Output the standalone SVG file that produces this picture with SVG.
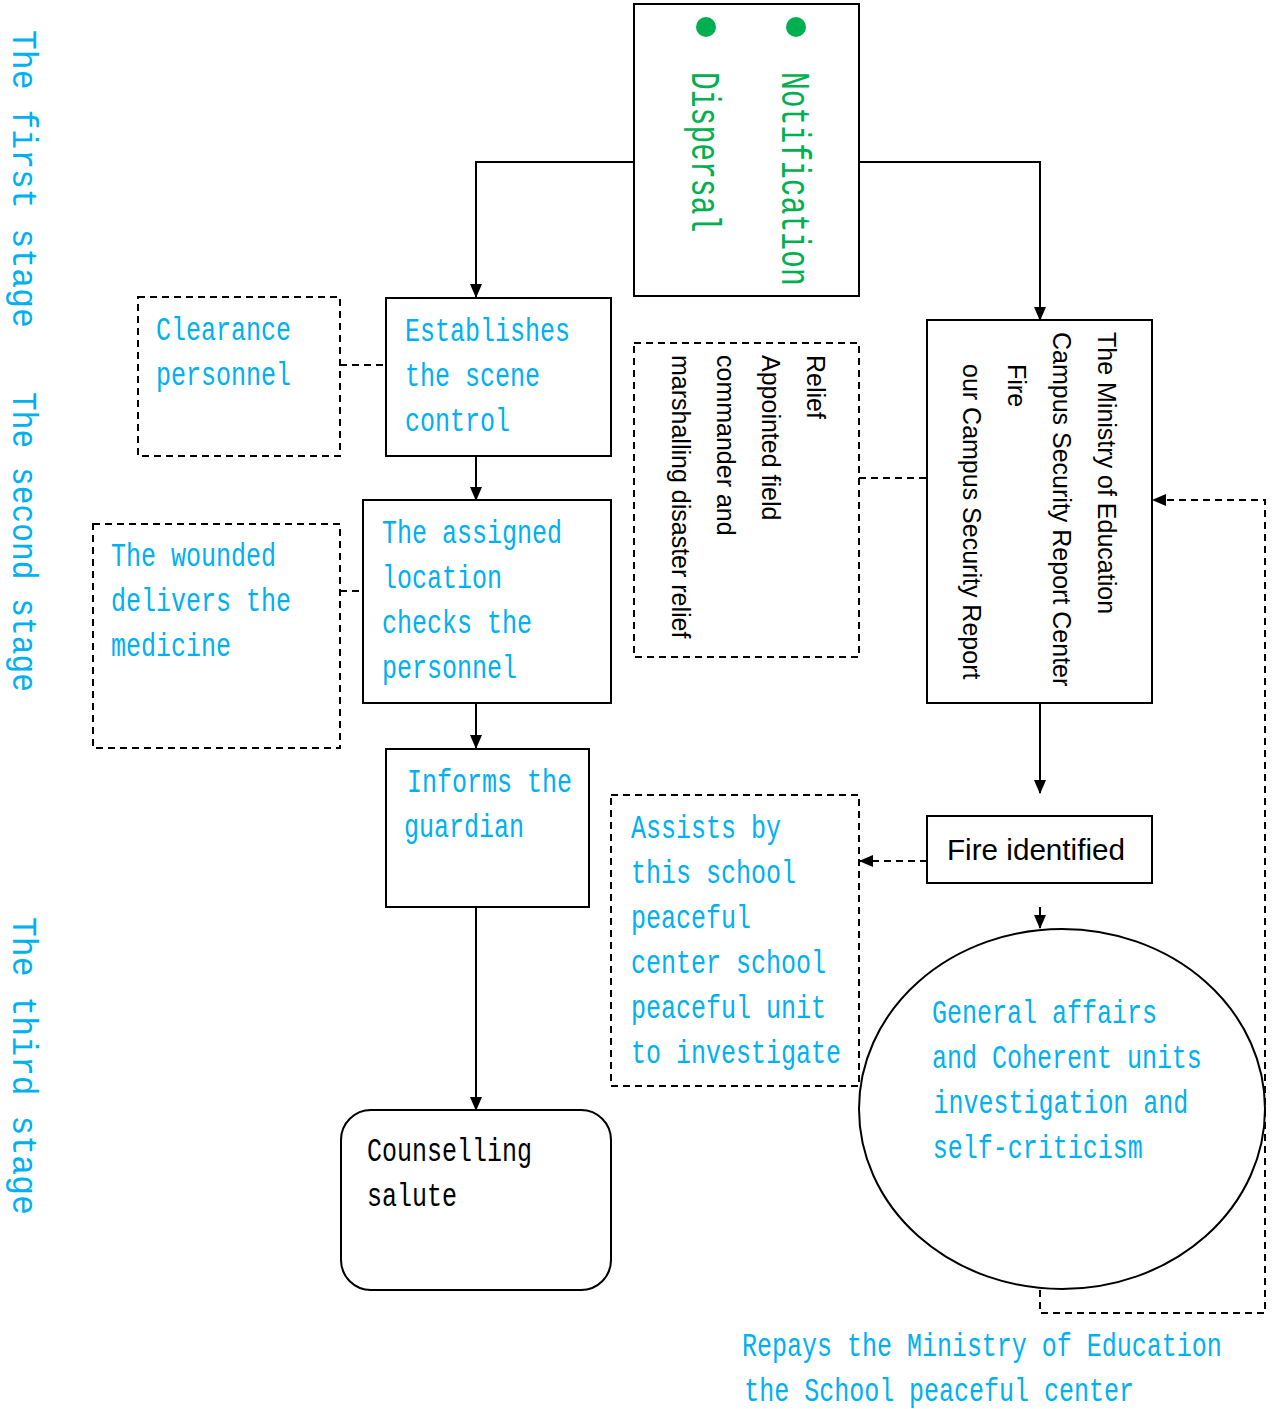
<svg xmlns="http://www.w3.org/2000/svg" width="1273" height="1409" viewBox="0 0 1273 1409">
<style>
.box{fill:#fff;stroke:#000;stroke-width:2}
.dbox{fill:none;stroke:#000;stroke-width:2;stroke-dasharray:7,5}
.ln{fill:none;stroke:#000;stroke-width:2}
.dl{fill:none;stroke:#000;stroke-width:2;stroke-dasharray:7,5}
.m{font-family:"Liberation Mono","DejaVu Sans Mono",monospace;font-size:34px;fill:#00B0F0}
.mk{font-family:"Liberation Mono","DejaVu Sans Mono",monospace;font-size:34px;fill:#000}
.st{font-family:"Liberation Mono","DejaVu Sans Mono",monospace;font-size:35px;fill:#00B0F0}
.g{font-family:"Liberation Mono","DejaVu Sans Mono",monospace;font-size:41px;fill:#00B050}
.s{font-family:"Liberation Sans",Arial,sans-serif;font-size:25px;fill:#000}
</style>
<defs>
<marker id="arr" markerUnits="userSpaceOnUse" markerWidth="14" markerHeight="12" refX="13" refY="6" orient="auto">
<path d="M0,0 L14,6 L0,12 z" fill="#000"/>
</marker>
</defs>

<g id="stages">
<text class="st" transform="translate(13,30) rotate(90) scale(0.946,1)">The first stage</text>
<text class="st" transform="translate(13,392) rotate(90) scale(0.893,1)">The second stage</text>
<text class="st" transform="translate(13,917) rotate(90) scale(0.946,1)">The third stage</text>
</g>

<g id="connectors">
<path class="ln" d="M634,162 H476 V297" marker-end="url(#arr)"/>
<path class="ln" d="M859,162 H1040 V320" marker-end="url(#arr)"/>
<path class="ln" d="M476,456 V500" marker-end="url(#arr)"/>
<path class="ln" d="M476,703 V748" marker-end="url(#arr)"/>
<path class="ln" d="M476,907 V1110" marker-end="url(#arr)"/>
<path class="ln" d="M1040,703 V793" marker-end="url(#arr)"/>
<path class="ln" d="M1040,907 V928" marker-end="url(#arr)"/>
<path class="dl" d="M927,861 H860" marker-end="url(#arr)"/>
<path class="dl" d="M340,365 H386"/>
<path class="dl" d="M340,591 H386"/>
<path class="dl" d="M859,478 H927"/>
<path class="dl" d="M1040,1290 V1313 H1265 V500 H1153" marker-end="url(#arr)"/>
</g>

<g id="n-top">
<rect class="box" x="634" y="4" width="225" height="292"/>
<circle cx="706" cy="27" r="10" fill="#00B050"/>
<circle cx="796" cy="27" r="10" fill="#00B050"/>
<text class="g" transform="translate(782,72) rotate(90) scale(0.724,1)">Notification</text>
<text class="g" transform="translate(692,72) rotate(90) scale(0.724,1)">Dispersal</text>
</g>

<g id="n-clearance">
<rect class="dbox" x="138" y="297" width="202" height="159"/>
<text class="m" transform="translate(156,340) scale(0.735,1)"><tspan x="0" y="0">Clearance</tspan><tspan x="0" y="45">personnel</tspan></text>
</g>

<g id="n-establish">
<rect class="box" x="386" y="298" width="225" height="158"/>
<text class="m" transform="translate(405,341) scale(0.735,1)"><tspan x="0" y="0">Establishes</tspan><tspan x="0" y="45">the scene</tspan><tspan x="0" y="90">control</tspan></text>
</g>

<g id="n-assigned">
<rect class="box" x="363" y="500" width="248" height="203"/>
<text class="m" transform="translate(382,543) scale(0.735,1)"><tspan x="0" y="0">The assigned</tspan><tspan x="0" y="45">location</tspan><tspan x="0" y="90">checks the</tspan><tspan x="0" y="135">personnel</tspan></text>
</g>

<g id="n-wounded">
<rect class="dbox" x="93" y="524" width="247" height="224"/>
<text class="m" transform="translate(111,566) scale(0.735,1)"><tspan x="0" y="0">The wounded</tspan><tspan x="0" y="45">delivers the</tspan><tspan x="0" y="90">medicine</tspan></text>
</g>

<g id="n-informs">
<rect class="box" x="386" y="749" width="203" height="158"/>
<text class="m" transform="translate(407,792) scale(0.735,1)">Informs the</text>
<text class="m" transform="translate(404,837) scale(0.735,1)">guardian</text>
</g>

<g id="n-counselling">
<rect class="box" x="341" y="1110" width="270" height="180" rx="30" ry="30"/>
<text class="mk" transform="translate(367,1161) scale(0.735,1)"><tspan x="0" y="0">Counselling</tspan><tspan x="0" y="45">salute</tspan></text>
</g>

<g id="n-relief">
<rect class="dbox" x="634" y="343" width="225" height="314"/>
<text class="s" transform="translate(807,355) rotate(90)">Relief</text>
<text class="s" transform="translate(762,355) rotate(90)">Appointed field</text>
<text class="s" transform="translate(717,355) rotate(90)">commander and</text>
<text class="s" transform="translate(672,355) rotate(90)">marshalling disaster relief</text>
</g>

<g id="n-ministry">
<rect class="box" x="927" y="320" width="225" height="383"/>
<text class="s" transform="translate(1098,332) rotate(90)">The Ministry of Education</text>
<text class="s" transform="translate(1053,332) rotate(90)">Campus Security Report Center</text>
<text class="s" transform="translate(1008,364) rotate(90)">Fire</text>
<text class="s" transform="translate(963,364) rotate(90)">our Campus Security Report</text>
</g>

<g id="n-fire">
<rect class="box" x="927" y="816" width="225" height="67"/>
<text x="947" y="860" font-family="Liberation Sans, Arial, sans-serif" font-size="29" fill="#000" textLength="178" lengthAdjust="spacingAndGlyphs">Fire identified</text>
</g>

<g id="n-assists">
<rect class="dbox" x="611" y="795" width="248" height="291"/>
<text class="m" transform="translate(631,838) scale(0.735,1)"><tspan x="0" y="0">Assists by</tspan><tspan x="0" y="45">this school</tspan><tspan x="0" y="90">peaceful</tspan><tspan x="0" y="135">center school</tspan><tspan x="0" y="180">peaceful unit</tspan><tspan x="0" y="225">to investigate</tspan></text>
</g>

<g id="n-general">
<ellipse class="box" cx="1062" cy="1109" rx="203" ry="180"/>
<text class="m" transform="translate(932,1023) scale(0.735,1)"><tspan x="0" y="0">General affairs</tspan><tspan x="0" y="45">and Coherent units</tspan><tspan x="2" y="90">investigation and</tspan><tspan x="1" y="135">self-criticism</tspan></text>
</g>

<g id="label-repays">
<text class="m" transform="translate(742,1356) scale(0.735,1)"><tspan x="0" y="0">Repays the Ministry of Education</tspan><tspan x="3" y="45">the School peaceful center</tspan></text>
</g>
</svg>
